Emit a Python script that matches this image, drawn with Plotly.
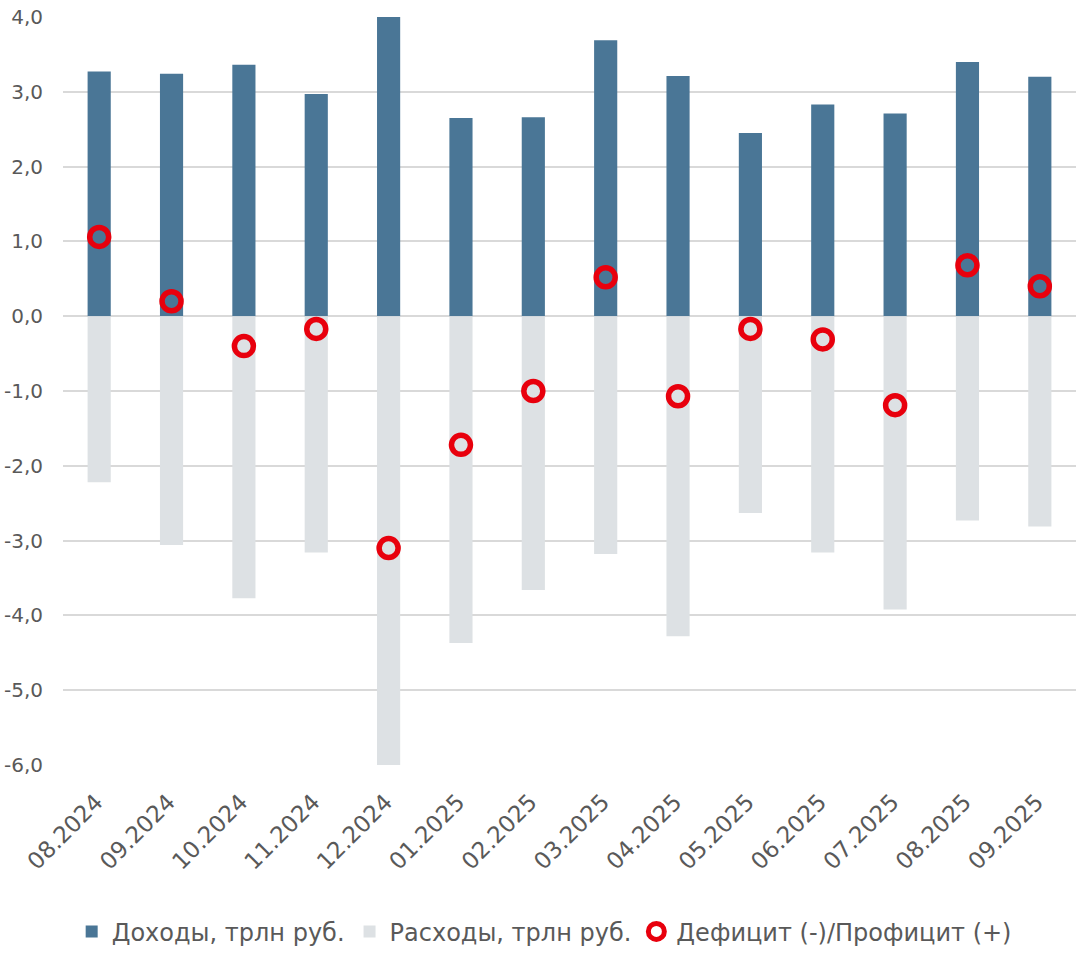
import plotly.graph_objects as go

months = ["08.2024", "09.2024", "10.2024", "11.2024", "12.2024", "01.2025", "02.2025",
          "03.2025", "04.2025", "05.2025", "06.2025", "07.2025", "08.2025", "09.2025"]
revenues = [3.27, 3.24, 3.36, 2.97, 4.00, 2.65, 2.66, 3.69, 3.21, 2.45, 2.83, 2.71, 3.40, 3.20]
expenses = [-2.22, -3.06, -3.77, -3.16, -6.04, -4.37, -3.66, -3.18, -4.28, -2.63, -3.16, -3.92, -2.73, -2.81]
balance = [1.06, 0.20, -0.40, -0.17, -3.10, -1.72, -1.00, 0.52, -1.07, -0.17, -0.31, -1.19, 0.68, 0.40]
y_ticks = [4, 3, 2, 1, 0, -1, -2, -3, -4, -5, -6]
y_tick_text = ["4,0", "3,0", "2,0", "1,0", "0,0", "-1,0", "-2,0", "-3,0", "-4,0", "-5,0", "-6,0"]

FONT = "DejaVu Sans"
GREY = "#595959"
RED = "#E8000D"

fig = go.Figure()
fig.add_trace(go.Bar(x=months, y=revenues, name="Доходы, трлн руб.",
                     marker=dict(color="#4A7696", line=dict(width=0)), width=0.32))
fig.add_trace(go.Bar(x=months, y=expenses, name="Расходы, трлн руб.",
                     marker=dict(color="#DDE1E4", line=dict(width=0)), width=0.32))
fig.add_trace(go.Scatter(x=months, y=balance, name="Дефицит (-)/Профицит (+)", mode="markers",
                         marker=dict(symbol="circle-open", size=19, color=RED,
                                     line=dict(color=RED, width=5.5))))

fig.update_layout(
    width=1084, height=954,
    barmode="overlay",
    plot_bgcolor="white", paper_bgcolor="white",
    margin=dict(l=63, r=8, t=17, b=189, autoexpand=False),
    font=dict(family=FONT, size=22, color=GREY),
    showlegend=True,
    legend=dict(orientation="h", x=0.475, xanchor="center", y=-0.223, yanchor="middle",
                font=dict(size=24, color=GREY), itemwidth=30, traceorder="normal"),
)
fig.update_xaxes(range=[-0.5, 13.5], tickangle=-45, showgrid=False, showline=False, zeroline=False,
                 tickfont=dict(size=23, color=GREY), ticks="", automargin=False,
                 ticklabelstandoff=18, ticklabelshift=-3)
fig.update_yaxes(range=[-6.0, 4.0], tickvals=y_ticks, ticktext=y_tick_text,
                 showgrid=True, gridcolor="#D9D9D9", gridwidth=2, zeroline=True,
                 zerolinecolor="#D9D9D9", zerolinewidth=2, showline=False,
                 tickfont=dict(size=20, color=GREY), ticks="", ticklabelstandoff=19,
                 ticklabeloverflow="allow", automargin=False)

fig.write_html("out.html", config={"displayModeBar": False},
               post_script="document.body.style.margin='0';document.body.style.overflow='hidden';")
